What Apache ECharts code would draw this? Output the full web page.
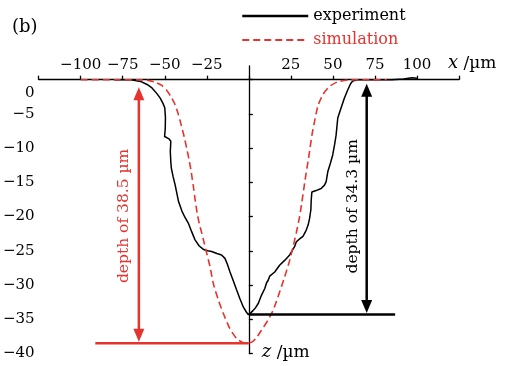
<!DOCTYPE html>
<html>
<head>
<meta charset="utf-8">
<script src="https://cdn.jsdelivr.net/npm/echarts@6/dist/echarts.min.js"></script>
<style>
  html, body { margin: 0; padding: 0; background: #fff; }
  #chart { width: 507px; height: 366px; }
</style>
</head>
<body>
<div id="chart"></div>
<script>
// Groove profile: measured (experiment) and modelled (simulation) depth z vs. position x, both in µm
const experimentX = [-80, -70, -64.4, -60.5, -57.6, -54.8, -52.7, -51.0, -50.0, -49.6, -49.7, -50.1, -47.7, -46.4, -46.7, -46.4, -46.1, -45.0, -43.8, -42.8, -41.8, -39.8, -37.8, -35.9, -34.0, -32.0, -29.5, -27.0, -24.5, -22.1, -19.0, -16.2, -14.2, -12.7, -11.2, -9.2, -7.3, -5.3, -3.3, -1.6, -0.4, 1.0, 2.6, 4.0, 5.6, 7.5, 9.5, 10.5, 11.5, 12.4, 15.4, 18.3, 21.3, 24.3, 27.2, 28.2, 30.0, 32.2, 34.1, 35.3, 36.1, 36.9, 37.1, 37.5, 40.0, 43.0, 45.0, 46.0, 47.0, 48.5, 49.9, 51.0, 51.9, 52.9, 54.9, 56.8, 58.8, 60.5, 61.8, 64.7, 75, 85, 92, 97, 100];
const experimentZ = [0, 0, -0.25, -0.7, -1.2, -2.0, -2.7, -3.5, -4.1, -5.5, -7.1, -8.3, -8.6, -9.0, -10.5, -12.0, -12.9, -14.2, -15.4, -16.6, -17.8, -19.2, -20.2, -21.0, -22.2, -23.4, -24.3, -24.8, -25.0, -25.1, -25.4, -25.6, -26.1, -27.0, -28.1, -29.4, -30.7, -32.0, -33.2, -33.9, -34.3, -34.1, -33.7, -33.3, -32.7, -31.5, -30.5, -29.7, -29.3, -28.7, -28.1, -27.1, -26.4, -25.6, -24.4, -23.7, -23.3, -22.9, -22.0, -21.2, -20.3, -19.0, -17.6, -16.4, -16.2, -15.9, -15.4, -14.9, -13.4, -12.2, -11.0, -9.5, -8.1, -5.6, -4.1, -2.7, -1.5, -0.6, -0.2, 0, 0, 0, 0.1, 0.3, 0.2];

const simulationX = [-100, -80, -66, -60, -56, -52, -49, -46.5, -44.3, -42.5, -41, -39.5, -38, -36.9, -35.6, -34.3, -33.1, -32, -30.8, -29.5, -28, -26.5, -25, -23.1, -21.1, -18.1, -15.1, -11.2, -7.3, -4, -1, 2, 4.5, 7.5, 11.5, 14.4, 16.4, 19.3, 21.3, 24.3, 26.3, 28.2, 30.2, 31.6, 32.9, 34.1, 35.3, 36.4, 37.6, 39.1, 41.1, 44.0, 47.9, 52.9, 58.8, 65, 82];
const simulationZ = [0, 0, 0, -0.1, -0.35, -0.8, -1.5, -2.4, -3.4, -4.6, -5.9, -7.3, -8.8, -10.1, -11.6, -13.4, -15.4, -17.4, -19.4, -21.0, -22.4, -23.9, -25.4, -27.3, -29.8, -32.2, -34.2, -36.4, -37.8, -38.35, -38.5, -38.3, -37.7, -36.6, -35.1, -33.7, -32.4, -30.3, -28.8, -26.4, -24.4, -22.4, -20.0, -17.8, -15.6, -13.6, -11.8, -10.0, -8.0, -6.1, -3.8, -2.2, -1.0, -0.3, -0.05, 0, 0];

// Axis ticks
const zTicks = [-40, -35, -30, -25, -20, -15, -10, -5, 0];
const xHiddenLabels = [-125, 0, 125];

// Depths quoted on the annotations
const depthSimulation = 38.5;
const depthExperiment = 34.3;

const RED = '#e5332e';
const FONT = '"DejaVu Serif", serif';
const minus = v => (v < 0 ? '\u2212' + Math.abs(v) : String(v));

const chart = echarts.init(document.getElementById('chart'), null, { renderer: 'canvas' });

chart.setOption({
  animation: false,
  backgroundColor: '#fff',
  grid: { left: 35, right: 48, top: 66, bottom: 12.5, containLabel: false },
  legend: {
    orient: 'vertical',
    left: 241,
    top: 8,
    padding: 0,
    itemWidth: 66,
    itemHeight: 16,
    itemGap: 8,
    selectedMode: false,
    itemStyle: { opacity: 0 },
    textStyle: { fontFamily: FONT, fontSize: 16 },
    data: [
      { name: 'experiment', textStyle: { color: '#000' }, lineStyle: { width: 2.5 } },
      { name: 'simulation', textStyle: { color: RED }, lineStyle: { width: 2 } }
    ]
  },
  xAxis: {
    type: 'value',
    min: -125,
    max: 125,
    interval: 25,
    position: 'top',
    axisLine: { onZero: true, lineStyle: { color: '#000', width: 1.3 } },
    axisTick: { length: 4, lineStyle: { color: '#000', width: 1.3 } },
    axisLabel: {
      margin: -7,
      color: '#000',
      fontFamily: FONT,
      fontSize: 15,
      formatter: v => (xHiddenLabels.includes(v) ? '' : minus(v))
    },
    splitLine: { show: false }
  },
  yAxis: {
    type: 'value',
    min: -40,
    max: 2,
    position: 'left',
    axisLine: { onZero: true, lineStyle: { color: '#000', width: 1.3 } },
    axisTick: { inside: true, length: 4, customValues: zTicks, lineStyle: { color: '#000', width: 1.3 } },
    axisLabel: {
      margin: 4,
      color: '#000',
      fontFamily: FONT,
      fontSize: 15,
      customValues: zTicks,
      formatter: v => (v === 0 ? '{zero|0}' : minus(v)),
      rich: { zero: { padding: [26, 0, 0, 0], fontFamily: FONT, fontSize: 15, color: '#000' } }
    },
    splitLine: { show: false }
  },
  series: [
    {
      name: 'experiment',
      type: 'line',
      symbol: 'none',
      data: experimentX.map((x, i) => [x, experimentZ[i]]),
      lineStyle: { color: '#000', width: 1.5 },
      itemStyle: { color: '#000' },
      z: 3
    },
    {
      name: 'simulation',
      type: 'line',
      symbol: 'none',
      smooth: 0.2,
      data: simulationX.map((x, i) => [x, simulationZ[i]]),
      lineStyle: { color: RED, width: 1.6, type: [7, 4] },
      itemStyle: { color: RED },
      z: 4
    }
  ]
});

// Depth annotations placed in data coordinates
const px = (x, z) => chart.convertToPixel({ gridIndex: 0 }, [x, z]);
const HEAD_L = 13, HEAD_W = 5.5;

function depthArrow(xVal, zTop, zBottom, color) {
  const top = px(xVal, zTop);
  const bot = px(xVal, zBottom);
  bot[1] -= 1.5;
  return [
    { type: 'line', shape: { x1: top[0], y1: top[1] + HEAD_L - 1, x2: bot[0], y2: bot[1] - HEAD_L + 1 },
      style: { stroke: color, lineWidth: 2.5 }, z: 10 },
    { type: 'polygon', shape: { points: [[top[0], top[1]], [top[0] - HEAD_W, top[1] + HEAD_L], [top[0] + HEAD_W, top[1] + HEAD_L]] },
      style: { fill: color }, z: 10 },
    { type: 'polygon', shape: { points: [[bot[0], bot[1]], [bot[0] - HEAD_W, bot[1] - HEAD_L], [bot[0] + HEAD_W, bot[1] - HEAD_L]] },
      style: { fill: color }, z: 10 }
  ];
}

function hLine(x1, x2, z, color) {
  const a = px(x1, z), b = px(x2, z);
  return { type: 'line', shape: { x1: a[0], y1: a[1], x2: b[0], y2: b[1] },
    style: { stroke: color, lineWidth: 2.5 }, z: 10 };
}

function vText(xVal, zVal, text, color) {
  const p = px(xVal, zVal);
  return { type: 'text', x: p[0], y: p[1], rotation: Math.PI / 2,
    style: { text, fill: color, font: '15.5px ' + FONT, align: 'center', verticalAlign: 'middle' }, z: 10 };
}

const xEnd = px(125, 0);
const zEnd = px(0, -40);

chart.setOption({
  graphic: [
    hLine(-91.3, 0, -depthSimulation, RED),
    ...depthArrow(-65.4, -1.1, -depthSimulation, RED),
    vText(-74, -19.9, `depth of ${depthSimulation} µm`, RED),
    hLine(0, 87, -depthExperiment, '#000'),
    ...depthArrow(70.1, -0.6, -depthExperiment, '#000'),
    vText(62, -18.5, `depth of ${depthExperiment} µm`, '#000'),
    { type: 'text', x: xEnd[0] - 11, y: xEnd[1] - 16,
      style: { text: '{i|x} /µm', fill: '#000', font: '17px ' + FONT, verticalAlign: 'middle',
        rich: { i: { fontStyle: 'italic', fontFamily: FONT, fontSize: 18 } } } },
    { type: 'text', x: zEnd[0] + 13, y: zEnd[1] - 1,
      style: { text: '{i|z} /µm', fill: '#000', font: '17px ' + FONT, verticalAlign: 'middle',
        rich: { i: { fontStyle: 'italic', fontFamily: FONT, fontSize: 18 } } } },
    { type: 'text', left: 12, top: 18,
      style: { text: '(b)', fill: '#000', font: '18px ' + FONT } }
  ]
});
</script>
</body>
</html>
